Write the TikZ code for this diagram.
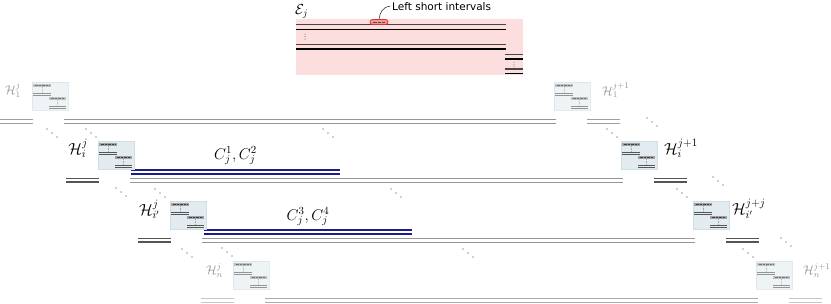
\RequirePackage{fix-cm}
\documentclass[tikz,border=0pt]{standalone}
\usepackage{fontspec}
\newfontfamily\dejavu{DejaVu Sans}
\definecolor{pinkfill}{RGB}{253,222,222}
\definecolor{thumbfill}{RGB}{226,236,240}
\definecolor{thumbedge}{RGB}{208,222,228}
\definecolor{bandgray}{RGB}{160,160,160}
\definecolor{navyline}{RGB}{28,28,140}
\definecolor{longgray}{RGB}{150,150,150}
\definecolor{pairdark}{RGB}{85,85,85}
\definecolor{pairone}{RGB}{160,160,160}
\definecolor{pairfour}{RGB}{200,200,200}
\definecolor{fadegray}{RGB}{150,150,150}
\definecolor{ejgray}{RGB}{70,70,70}
\definecolor{redfill}{RGB}{242,150,150}
\definecolor{rededge}{RGB}{225,50,50}
\tikzset{
  thumb/.pic={
    \fill[thumbfill, draw=thumbedge, line width=0.4pt] (0,0) rectangle (36,28);
    \fill[bandgray] (1,2) rectangle (19,4.6);
    \draw[black!75, line width=0.5pt, dash pattern=on 0.6pt off 0.8pt] (2.5,3.3) -- (17.5,3.3);
    \draw[gray!70, line width=0.4pt, dash pattern=on 0.6pt off 0.9pt] (10,5.2) -- (10,10);
    \draw[pairdark, line width=0.6pt] (1,11) -- (19,11);
    \draw[pairdark, line width=0.6pt] (1,12.9) -- (19,12.9);
    \fill[bandgray] (17,15) rectangle (34,17.6);
    \draw[black!75, line width=0.5pt, dash pattern=on 0.6pt off 0.8pt] (18.5,16.3) -- (32.5,16.3);
    \draw[gray!70, line width=0.4pt, dash pattern=on 0.6pt off 0.9pt] (25.5,18.2) -- (25.5,23);
    \draw[pairdark, line width=0.6pt] (17,24) -- (34,24);
    \draw[pairdark, line width=0.6pt] (17,26) -- (34,26);
  },
  biglbl/.style={inner sep=0pt, font=\fontsize{16}{18}\selectfont},
  smlbl/.style={inner sep=0pt, font=\fontsize{12.5}{14}\selectfont, text=fadegray},
  clbl/.style={inner sep=0pt, font=\fontsize{15.5}{17}\selectfont},
  blueline/.style={navyline, line width=1.5pt},
  dotc/.style={fill=black!80},
}
\newcommand\introw[5]{%
  \draw[#4] (#1-32,#3) -- (#1+1,#3) (#1-32,#3+3.5) -- (#1+1,#3+3.5);
  \draw[#5] (#1+32,#3) -- (#2+2,#3) (#1+32,#3+3.5) -- (#2+2,#3+3.5);
  \draw[#4] (#2+33,#3) -- (#2+66,#3) (#2+33,#3+3.5) -- (#2+66,#3+3.5);
}
\newcommand\diagdots[2]{%
  \foreach \kk in {0,1,2} {\fill[dotc] (#1+5*\kk,#2+4*\kk) circle (0.65pt);}
}
\begin{document}
\begin{tikzpicture}[x=1pt,y=-1pt]
\useasboundingbox (0,0) rectangle (831,303);

% ---- E_j block ----
\fill[pinkfill] (296,19) rectangle (523,75);
\draw[ejgray, line width=1.3pt] (296,24.5) -- (506,24.5);
\draw[black, line width=1.1pt] (296,29.5) -- (506,29.5);
\foreach \yy in {34,36.5,39} {\fill[black!70] (305,\yy) circle (0.5pt);}
\draw[ejgray, line width=1.2pt] (296,44.5) -- (506,44.5);
\draw[black, line width=1.1pt] (296,49) -- (506,49);
\draw[ejgray, line width=1.2pt] (505,54.5) -- (523,54.5);
\draw[black, line width=1.1pt] (505,59) -- (523,59);
\foreach \yy in {62.5,64.5,66.5} {\fill[black!70] (514,\yy) circle (0.45pt);}
\draw[ejgray, line width=1.2pt] (505,69) -- (523,69);
\draw[black, line width=1.1pt] (505,73.5) -- (523,73.5);
\node[draw=rededge, fill=redfill, line width=0.7pt, rounded corners=2.5pt,
      minimum width=18pt, minimum height=5pt, inner sep=0pt] (lsi) at (379,22) {};
\draw[black!70, line width=0.5pt, dash pattern=on 0.6pt off 0.7pt] (372.5,22) -- (385.5,22);
\node[anchor=base west, inner sep=1.5pt, font=\dejavu\fontsize{10.5}{12}\selectfont] (lsitext) at (390.5,10) {Left short intervals};
\draw[black!75, line width=0.6pt] (lsi.north) .. controls (380,13) and (382,7) .. (lsitext.west);
\node[anchor=base west, inner sep=0pt, font=\fontsize{14.5}{16}\selectfont] (ej) at (295,14) {$\mathcal{E}_j$};

% ---- interval rows ----
\introw{32}{554}{119.5}{pairone, line width=1pt}{longgray, line width=0.9pt}
\introw{98}{621}{178.5}{pairdark, line width=1.1pt}{longgray, line width=0.9pt}
\introw{170}{693}{238.5}{pairdark, line width=1.1pt}{longgray, line width=0.9pt}
\introw{233}{756}{298.5}{pairfour, line width=1pt}{longgray!80, line width=0.9pt}

% blue intervals
\draw[blueline] (131,170) -- (340,170) (131,174) -- (340,174);
\draw[blueline] (204,230) -- (412,230) (204,234) -- (412,234);

% ---- thumbnails ----
\pic[opacity=0.6] (tha) at (32,82) {thumb};
\pic (thb) at (98,141) {thumb};
\pic (thc) at (170,201) {thumb};
\pic[opacity=0.6] (thd) at (233,261) {thumb};
\pic[opacity=0.6] (tra) at (554,82) {thumb};
\pic (trb) at (621,141) {thumb};
\pic (trc) at (693,201) {thumb};
\pic[opacity=0.6] (trd) at (756,261) {thumb};

% ---- labels ----
\node[smlbl, anchor=base east] (h1l) at (21,94.5) {$\mathcal{H}_1^j$};
\node[biglbl, anchor=base east] (hil) at (88,154.5) {$\mathcal{H}_i^j$};
\node[biglbl, anchor=base east] (hpl) at (160,215) {$\mathcal{H}_{i'}^j$};
\node[smlbl, anchor=base east] (hnl) at (223,274) {$\mathcal{H}_n^j$};
\node[smlbl, anchor=base west] (h1r) at (602,95) {$\mathcal{H}_1^{j+1}$};
\node[biglbl, anchor=base west] (hir) at (664,154.5) {$\mathcal{H}_i^{j+1}$};
\node[biglbl, anchor=base west] (hpr) at (732,214.5) {$\mathcal{H}_{i'}^{j+j}$};
\node[smlbl, anchor=base west] (hnr) at (803,274) {$\mathcal{H}_n^{j+1}$};
\node[clbl, anchor=base] (c12) at (235.5,159) {$C_j^1, C_j^2$};
\node[clbl, anchor=base] (c34) at (308,220) {$C_j^3, C_j^4$};

% ---- diagonal dots ----
\diagdots{47}{129}
\diagdots{86}{129}
\diagdots{323}{129}
\diagdots{607}{129}
\diagdots{647}{118}
\diagdots{116}{188}
\diagdots{155}{189}
\diagdots{391}{189}
\diagdots{677}{189}
\diagdots{713}{177}
\diagdots{182}{249}
\diagdots{222}{248}
\diagdots{463}{249}
\diagdots{743}{249}
\diagdots{781}{238}
\end{tikzpicture}
\end{document}
